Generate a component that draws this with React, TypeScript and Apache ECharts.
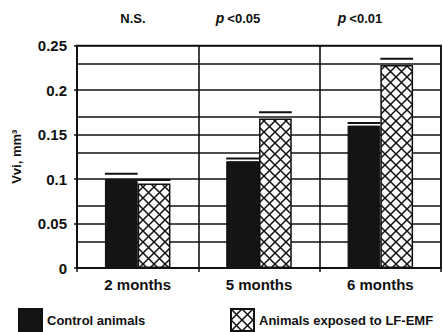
import React, { useEffect, useRef } from "react";
import * as echarts from "echarts";

const categories = ["2 months", "5 months", "6 months"];
const controlMeans = [0.1, 0.12, 0.16];
const controlErr = [0.006, 0.003, 0.003];
const exposedMeans = [0.095, 0.168, 0.228];
const exposedErr = [0.004, 0.007, 0.007];
const significance = ["N.S.", "{i|p}<0.05", "{i|p}<0.01"];
const yAxisRange = { min: 0, max: 0.25, interval: 0.05 };
const minorGridValues = [0.025, 0.075, 0.125, 0.175, 0.225];
const seriesNames = ["Control animals", "Animals exposed to LF-EMF"];

const FONT = "'Liberation Sans', Arial, Helvetica, sans-serif";
const INK = "#111";

function makeHatch(): HTMLCanvasElement {
  const s = 11;
  const c = document.createElement("canvas");
  c.width = s;
  c.height = s;
  const ctx = c.getContext("2d")!;
  ctx.fillStyle = "#fbfbfb";
  ctx.fillRect(0, 0, s, s);
  ctx.strokeStyle = "#111";
  ctx.lineWidth = 1.5;
  ctx.beginPath();
  ctx.moveTo(0, 0);
  ctx.lineTo(s, s);
  ctx.moveTo(s, 0);
  ctx.lineTo(0, s);
  ctx.stroke();
  return c;
}

export default function App() {
  const ref = useRef<HTMLDivElement>(null);
  useEffect(() => {
    document.body.style.margin = "0";
    const chart = echarts.init(ref.current!, null, { renderer: "svg" });
    const hatch = makeHatch();
    const errData: number[][] = [];
    categories.forEach((_, i) => {
      errData.push([i, controlMeans[i] + controlErr[i], 0]);
      errData.push([i, exposedMeans[i] + exposedErr[i], 1]);
    });
    const sigX = [133, 238, 360];
    const legendText = { fontFamily: FONT, fontWeight: "bold", fontSize: 13, color: INK };
    chart.setOption({
      animation: false,
      backgroundColor: "#fff",
      textStyle: { fontFamily: FONT },
      grid: {
        left: 77,
        right: 2,
        top: 45.5,
        bottom: 64,
        show: true,
        borderColor: INK,
        borderWidth: 1.5,
      },
      graphic: significance.map((t, i) => ({
        type: "text",
        x: sigX[i],
        y: 18,
        style: {
          text: t,
          fontFamily: FONT,
          fontWeight: "bold",
          fontSize: 13,
          fill: INK,
          align: "center",
          verticalAlign: "middle",
          rich: {
            i: {
              fontStyle: "italic",
              fontWeight: "bold",
              fontSize: 14,
              fontFamily: FONT,
              padding: [0, 3, 0, 0],
            },
          },
        },
      })),
      legend: [
        {
          data: [seriesNames[0]],
          left: 18,
          top: 308,
          padding: 0,
          itemWidth: 23,
          itemHeight: 22,
          icon: "rect",
          textStyle: legendText,
        },
        {
          data: [seriesNames[1]],
          left: 230,
          top: 308,
          padding: 0,
          itemWidth: 23,
          itemHeight: 22,
          icon: "rect",
          textStyle: legendText,
        },
      ],
      xAxis: {
        type: "category",
        data: categories,
        axisLine: { lineStyle: { color: INK, width: 1.5 } },
        axisTick: { show: true, length: 4, lineStyle: { color: INK, width: 1.5 } },
        axisLabel: { fontFamily: FONT, fontWeight: "bold", fontSize: 15, color: INK, margin: 9 },
        splitLine: { show: true, lineStyle: { color: INK, width: 1.6 } },
      },
      yAxis: {
        type: "value",
        min: yAxisRange.min,
        max: yAxisRange.max,
        interval: yAxisRange.interval,
        name: "Vvi, mm³",
        nameLocation: "middle",
        nameGap: 54,
        nameTextStyle: { fontFamily: FONT, fontWeight: "bold", fontSize: 13, color: INK },
        axisLine: { show: true, lineStyle: { color: INK, width: 1.5 } },
        axisTick: { show: true, length: 3, lineStyle: { color: INK, width: 1.5 } },
        axisLabel: { fontFamily: FONT, fontWeight: "bold", fontSize: 15, color: INK, margin: 10 },
        splitLine: { show: true, lineStyle: { color: INK, width: 1.6 } },
      },
      series: [
        {
          name: "minor-grid",
          type: "line",
          data: [],
          z: 0,
          silent: true,
          markLine: {
            silent: true,
            z: 0,
            zlevel: 0,
            symbol: "none",
            label: { show: false },
            lineStyle: { color: INK, width: 1.6, type: "solid" },
            data: minorGridValues.map((v) => ({ yAxis: v })),
          },
        },
        {
          name: seriesNames[0],
          type: "bar",
          data: controlMeans,
          barWidth: "27%",
          barGap: "0%",
          z: 6,
          itemStyle: { color: "#141414", borderColor: INK, borderWidth: 1 },
        },
        {
          name: seriesNames[1],
          type: "bar",
          data: exposedMeans,
          barWidth: "27%",
          barGap: "0%",
          z: 6,
          itemStyle: {
            color: { image: hatch, repeat: "repeat" },
            borderColor: INK,
            borderWidth: 1.5,
          },
        },
        {
          name: "err",
          type: "custom",
          data: errData,
          encode: { x: 0, y: 1 },
          z: 7,
          renderItem: (params: any, api: any) => {
            const idx = api.value(0);
            const v = api.value(1);
            const side = api.value(2);
            const band = api.size([1, 0])[0];
            const bw = band * 0.27;
            const c = api.coord([idx, v]);
            const x0 = c[0] - bw + side * bw;
            return {
              type: "line",
              shape: { x1: x0, y1: c[1], x2: x0 + bw, y2: c[1] },
              style: { stroke: INK, lineWidth: 2 },
            };
          },
        },
      ],
    });
    return () => chart.dispose();
  }, []);
  return <div ref={ref} style={{ width: 443, height: 332 }} />;
}
